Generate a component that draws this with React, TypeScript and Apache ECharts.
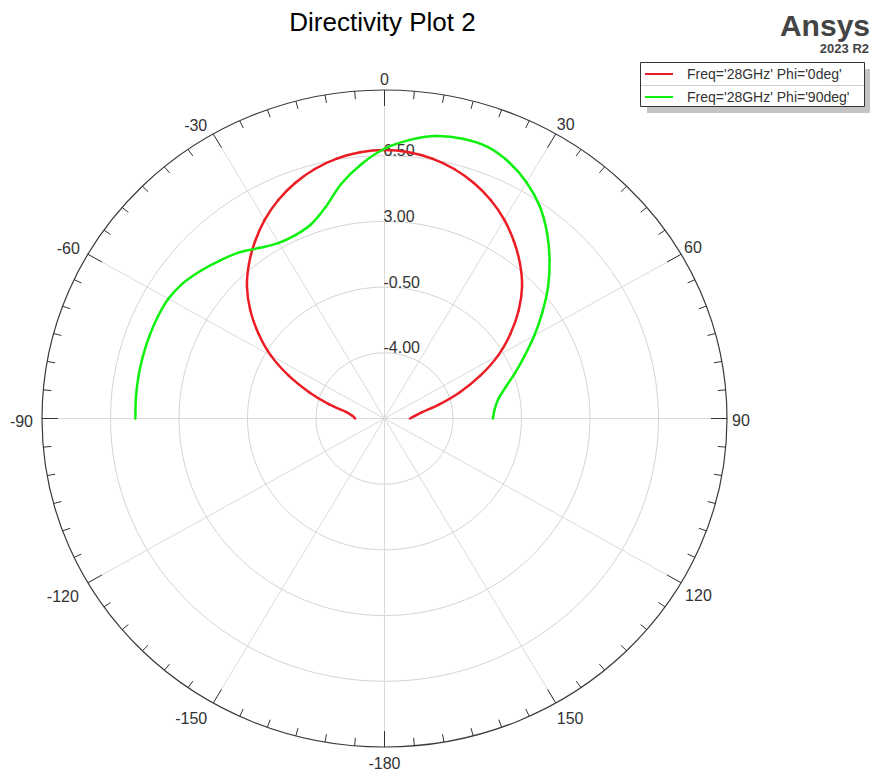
import React, { useEffect, useRef } from 'react';
import * as echarts from 'echarts';

// Theta sweep (deg) shared by both cuts
const THETA_DEG = [
  -90, -85, -80, -75, -70, -65, -60, -55, -50, -45, -40, -35, -30, -25, -20, -15, -10, -5,
  0, 5, 10, 15, 20, 25, 30, 35, 40, 45, 50, 55, 60, 65, 70, 75, 80, 85, 90,
];

// Directivity (dB) for Phi = 0deg
const PHI0_DB = [
  -6.0, -5.85, -5.5, -4.55, -3.4, -2.1, -0.8, 0.35, 1.45, 2.44, 3.27, 4.03, 4.73, 5.34, 5.85, 6.26, 6.56, 6.74,
  6.8, 6.74, 6.56, 6.26, 5.85, 5.34, 4.73, 4.03, 3.27, 2.44, 1.45, 0.35, -0.8, -2.1, -3.4, -4.6, -5.55, -5.95, -6.2,
];

// Directivity (dB) for Phi = 90deg
const PHI90_DB = [
  5.23, 5.25, 5.27, 5.28, 5.29, 5.29, 5.25, 5.07, 4.75, 4.4, 4.05, 3.6, 3.3, 3.28, 3.5, 4.15, 5.2, 6.1,
  6.87, 7.4, 7.78, 7.93, 7.9, 7.56, 7.02, 6.32, 5.42, 4.43, 3.41, 2.34, 1.34, 0.4, -0.4, -1.1, -1.6, -1.85, -1.96,
];

const SERIES_NAMES = ["Freq='28GHz' Phi='0deg'", "Freq='28GHz' Phi='90deg'"];
const SERIES_COLORS = ['#ec1c24', '#0ef00e'];

// Radial (dB) scale
const RADIAL_MIN = -7.5;
const RADIAL_MAX = 10;
const RING_VALUES = [-4, -0.5, 3, 6.5];

// Angular scale
const ANGLE_TICKS = [0, 30, 60, 90, 120, 150, 180, -150, -120, -90, -60, -30];
const ANGLE_TICK_LABELS = ['0', '30', '60', '90', '120', '150', '-180', '-150', '-120', '-90', '-60', '-30'];

const FONT = '"Liberation Sans", Arial, sans-serif';
const SPAN = RADIAL_MAX - RADIAL_MIN;

// label placement around the rim: [align, dx, dy]
const RIM_LABEL_LAYOUT: Record<string, [string, number, number]> = {
  '0': ['center', 0, -11],
  '30': ['left', 1, -10],
  '60': ['left', 3, -7],
  '90': ['left', 5, 2],
  '120': ['left', 4, 13],
  '150': ['left', 1, 16],
  '180': ['center', 0, 16],
  '-150': ['right', -6, 16],
  '-120': ['right', -9, 14],
  '-90': ['right', -9, 3],
  '-60': ['right', -8, -6],
  '-30': ['right', -6, -9],
};

// polar (deg clockwise from top, radius in axis units) -> cartesian axis units
const polarToXY = (deg: number, r: number): [number, number] => {
  const t = (deg * Math.PI) / 180;
  return [r * Math.sin(t), r * Math.cos(t)];
};
const dbToXY = (deg: number, db: number) => polarToXY(deg, db - RADIAL_MIN);

// a pattern cut drawn as a Catmull-Rom curve through its samples
const patternSeries = (name: string, color: string, values: number[], z: number) => ({
  name,
  type: 'custom',
  z,
  silent: true,
  itemStyle: { color },
  encode: { x: 0, y: 1 },
  data: THETA_DEG.map((t, i) => dbToXY(t, values[i])),
  renderItem: (params: any, api: any) => {
    const i = params.dataIndexInside;
    const n = params.dataInsideLength;
    if (i >= n - 1) return { type: 'group', children: [] };
    const P = (k: number) => api.coord([api.value(0, k), api.value(1, k)]);
    const p0 = P(Math.max(i - 1, 0));
    const p1 = P(i);
    const p2 = P(i + 1);
    const p3 = P(Math.min(i + 2, n - 1));
    return {
      type: 'bezierCurve',
      shape: {
        x1: p1[0], y1: p1[1], x2: p2[0], y2: p2[1],
        cpx1: p1[0] + (p2[0] - p0[0]) / 6,
        cpy1: p1[1] + (p2[1] - p0[1]) / 6,
        cpx2: p2[0] - (p3[0] - p1[0]) / 6,
        cpy2: p2[1] - (p3[1] - p1[1]) / 6,
      },
      style: { stroke: color, fill: 'none', lineWidth: 2.5, lineCap: 'round' },
    };
  },
});

export default function App() {
  const ref = useRef<HTMLDivElement>(null);

  useEffect(() => {
    if (!ref.current) return;
    const chart = echarts.init(ref.current, undefined, { renderer: 'svg' });

    const rimTicks: number[][] = [];
    for (let a = 0; a < 360; a += 5) rimTicks.push([a, 0]);
    const spokes: number[][] = [];
    for (let a = 0; a < 360; a += 30) spokes.push([a, 0]);

    const option: any = {
      animation: false,
      backgroundColor: '#ffffff',
      grid: { left: 42, top: 90, width: 685, height: 657, containLabel: false },
      xAxis: { type: 'value', min: -SPAN, max: SPAN, show: false },
      yAxis: { type: 'value', min: -SPAN, max: SPAN, show: false },
      legend: {
        data: SERIES_NAMES,
        orient: 'vertical',
        left: 645,
        top: 67,
        padding: 0,
        itemWidth: 28,
        itemHeight: 2,
        itemGap: 9,
        icon: 'rect',
        selectedMode: false,
        z: 20,
        textStyle: { fontSize: 14, lineHeight: 14, color: '#333', fontFamily: FONT, padding: [0, 0, 0, 9] },
      },
      graphic: [
        {
          type: 'text', z: 12, x: 382.5, y: 22,
          style: { text: 'Directivity Plot 2', align: 'center', verticalAlign: 'middle', fontSize: 26, fontFamily: FONT, fill: '#000' },
        },
        { type: 'rect', z: 10, shape: { x: 647, y: 69, width: 223, height: 44 }, style: { fill: '#c4c4c4' } },
        {
          type: 'rect', z: 11,
          shape: { x: 640.5, y: 62.5, width: 224, height: 44 },
          style: { fill: '#fff', stroke: '#333', lineWidth: 1 },
        },
        { type: 'line', z: 12, shape: { x1: 641, y1: 85.5, x2: 864, y2: 85.5 }, style: { stroke: '#cfcfcf', lineWidth: 1 } },
        {
          type: 'text', z: 12, x: 870, y: 25,
          style: { text: 'Ansys', align: 'right', verticalAlign: 'middle', fontSize: 30, fontWeight: 'bold', fontFamily: FONT, fill: '#444' },
        },
        {
          type: 'text', z: 12, x: 869, y: 48.5,
          style: { text: '2023 R2', align: 'right', verticalAlign: 'middle', fontSize: 13, fontWeight: 'bold', fontFamily: FONT, fill: '#444' },
        },
      ],
      series: [
        // dB rings
        {
          type: 'custom', silent: true, z: 1,
          data: RING_VALUES.map((v) => [v - RADIAL_MIN, 0]),
          renderItem: (_p: any, api: any) => {
            const r = api.value(0);
            const c = api.coord([0, 0]);
            const s = api.size([r, r]);
            return {
              type: 'ellipse',
              shape: { cx: c[0], cy: c[1], rx: s[0], ry: s[1] },
              style: { fill: 'none', stroke: '#d4d4d4', lineWidth: 1 },
            };
          },
        },
        // angular spokes
        {
          type: 'custom', silent: true, z: 1,
          data: spokes,
          renderItem: (_p: any, api: any) => {
            const c = api.coord([0, 0]);
            const e = api.coord(polarToXY(api.value(0), SPAN));
            return {
              type: 'line',
              shape: { x1: c[0], y1: c[1], x2: e[0], y2: e[1] },
              style: { stroke: '#dadada', lineWidth: 1 },
            };
          },
        },
        // outer rim
        {
          type: 'custom', silent: true, z: 2,
          data: [[SPAN, 0]],
          renderItem: (_p: any, api: any) => {
            const r = api.value(0);
            const c = api.coord([0, 0]);
            const s = api.size([r, r]);
            return {
              type: 'ellipse',
              shape: { cx: c[0], cy: c[1], rx: s[0], ry: s[1] },
              style: { fill: 'none', stroke: '#3a3a3a', lineWidth: 1.2 },
            };
          },
        },
        // rim ticks every 5 deg
        {
          type: 'custom', silent: true, z: 2,
          data: rimTicks,
          renderItem: (_p: any, api: any) => {
            const a = api.value(0);
            const len = a % 30 === 0 ? 16 : 8;
            const c = api.coord([0, 0]);
            const e = api.coord(polarToXY(a, SPAN));
            const dx = c[0] - e[0];
            const dy = c[1] - e[1];
            const d = Math.sqrt(dx * dx + dy * dy);
            return {
              type: 'line',
              shape: { x1: e[0], y1: e[1], x2: e[0] + (dx / d) * len, y2: e[1] + (dy / d) * len },
              style: { stroke: '#333', lineWidth: 1 },
            };
          },
        },
        // rim angle labels
        {
          type: 'custom', silent: true, z: 3,
          data: ANGLE_TICKS.map((a, i) => [a, i]),
          renderItem: (_p: any, api: any) => {
            const a = api.value(0);
            const i = api.value(1);
            const e = api.coord(polarToXY(a, SPAN));
            const [align, dx, dy] = RIM_LABEL_LAYOUT[String(a)];
            return {
              type: 'text',
              x: e[0] + dx,
              y: e[1] + dy,
              style: {
                text: ANGLE_TICK_LABELS[i], align, verticalAlign: 'middle',
                fontSize: 16, fontFamily: FONT, fill: '#333',
              },
            };
          },
        },
        // dB ring labels along 0 deg
        {
          type: 'custom', silent: true, z: 3,
          data: RING_VALUES.map((v) => [v, 0]),
          renderItem: (_p: any, api: any) => {
            const v = api.value(0);
            const p = api.coord([0, v - RADIAL_MIN]);
            return {
              type: 'text',
              x: p[0] - 1,
              y: p[1] - 5,
              style: {
                text: v.toFixed(2), align: 'left', verticalAlign: 'middle',
                fontSize: 16, fontFamily: FONT, fill: '#333',
              },
            };
          },
        },
        patternSeries(SERIES_NAMES[0], SERIES_COLORS[0], PHI0_DB, 5),
        patternSeries(SERIES_NAMES[1], SERIES_COLORS[1], PHI90_DB, 6),
      ],
    };

    chart.setOption(option);
    return () => chart.dispose();
  }, []);

  return (
    <div
      ref={ref}
      style={{ position: 'absolute', left: 0, top: 0, width: 872, height: 773, background: '#fff' }}
    />
  );
}
